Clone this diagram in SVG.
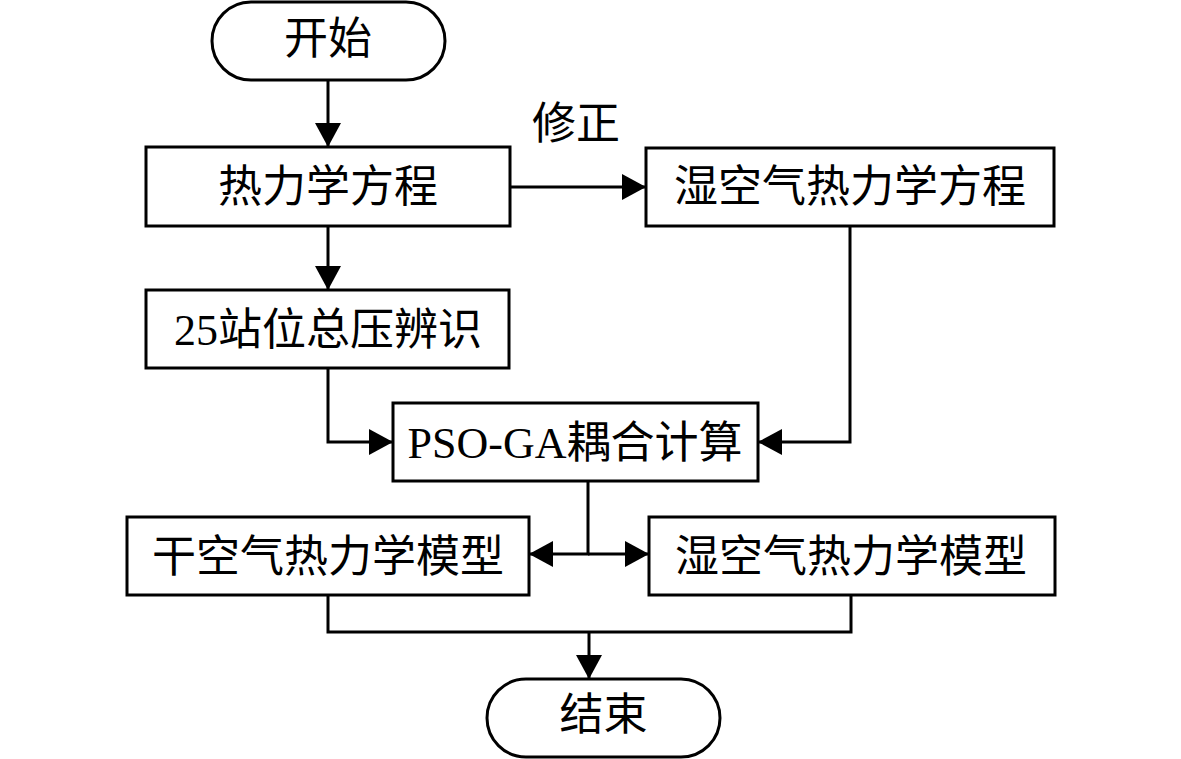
<svg xmlns="http://www.w3.org/2000/svg" width="1181" height="759" viewBox="0 0 1181 759">
<style>
.box{fill:#fff;stroke:#000;stroke-width:3}
.t{font-family:"Liberation Serif","Noto Sans CJK SC",serif;font-size:44px;fill:#000;text-anchor:middle}
.c{fill:none;stroke:#000;stroke-width:3}
</style>
<defs>
<marker id="ah" markerUnits="userSpaceOnUse" markerWidth="24" markerHeight="26" viewBox="0 0 24 26" refX="24" refY="13" orient="auto">
<path d="M0,0 L24,13 L0,26 z" fill="#000"/>
</marker>
</defs>
<rect width="1181" height="759" fill="#fff"/>
<g id="connectors">
<path class="c" d="M328,80 V147" marker-end="url(#ah)"/>
<path class="c" d="M328,226 V290" marker-end="url(#ah)"/>
<path class="c" d="M510,187 H646" marker-end="url(#ah)"/>
<path class="c" d="M328,368 V442 H393" marker-end="url(#ah)"/>
<path class="c" d="M850,226 V442 H758" marker-end="url(#ah)"/>
<path class="c" d="M588,481 V554 H529" marker-end="url(#ah)"/>
<path class="c" d="M588,554 H649" marker-end="url(#ah)"/>
<path class="c" d="M328,595 V632 H851 V595"/>
<path class="c" d="M589,632 V679" marker-end="url(#ah)"/>
<text class="t" x="576" y="139">修正</text>
</g>
<g id="start">
<rect class="box" x="212" y="2" width="233" height="78" rx="39" ry="39"/>
<text class="t" x="328" y="54">开始</text>
</g>
<g id="thermo">
<rect class="box" x="146" y="147" width="364" height="79"/>
<text class="t" x="328" y="202">热力学方程</text>
</g>
<g id="wet-eq">
<rect class="box" x="646" y="148" width="408" height="78"/>
<text class="t" x="850" y="202">湿空气热力学方程</text>
</g>
<g id="pressure">
<rect class="box" x="146" y="290" width="363" height="78"/>
<text class="t" x="328" y="345">25站位总压辨识</text>
</g>
<g id="pso">
<rect class="box" x="393" y="403" width="365" height="78"/>
<text class="t" x="575" y="458">PSO-GA耦合计算</text>
</g>
<g id="dry-model">
<rect class="box" x="127" y="517" width="402" height="78"/>
<text class="t" x="328" y="572">干空气热力学模型</text>
</g>
<g id="wet-model">
<rect class="box" x="649" y="517" width="406" height="78"/>
<text class="t" x="851" y="572">湿空气热力学模型</text>
</g>
<g id="end">
<rect class="box" x="487" y="679" width="233" height="78" rx="39" ry="39"/>
<text class="t" x="603.5" y="730">结束</text>
</g>
</svg>
